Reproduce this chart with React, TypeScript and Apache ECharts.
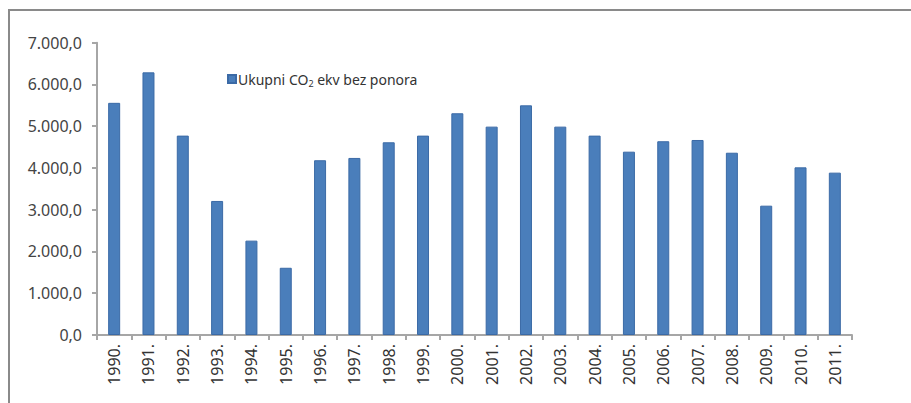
import React, { useEffect, useRef } from "react";
import * as echarts from "echarts";

const years = [
  "1990.", "1991.", "1992.", "1993.", "1994.", "1995.", "1996.", "1997.", "1998.", "1999.", "2000.",
  "2001.", "2002.", "2003.", "2004.", "2005.", "2006.", "2007.", "2008.", "2009.", "2010.", "2011.",
];
const emissions = [
  5560, 6290, 4775, 3210, 2260, 1610, 4185, 4240, 4615, 4775, 5310,
  4990, 5500, 4990, 4775, 4390, 4640, 4670, 4365, 3097, 4015, 3888,
];
const seriesName = "Ukupni CO2 ekv bez ponora";

const fmt = (v: number) => {
  const s = Math.round(v).toString().replace(/\B(?=(\d{3})+(?!\d))/g, ".");
  return s + ",0";
};

export default function App() {
  const ref = useRef<HTMLDivElement>(null);
  useEffect(() => {
    if (!ref.current) return;
    const chart = echarts.init(ref.current, null, { renderer: "svg" });
    const font = "Noto Sans";
    chart.setOption({
      animation: false,
      backgroundColor: "#fff",
      textStyle: { fontFamily: font },
      graphic: [
        {
          type: "rect",
          shape: { x: 9, y: 10, width: 940, height: 440 },
          style: { fill: "none", stroke: "#8a8a8a", lineWidth: 2 },
          z: 100,
        },
      ],
      legend: {
        left: 222,
        top: 67,
        icon: "rect",
        itemWidth: 8,
        itemHeight: 8,
        itemGap: 10,
        textStyle: {
          fontFamily: font,
          fontSize: 14,
          color: "#333",
          padding: [0, 0, 0, -3],
          rich: {
            sub: { fontSize: 9, verticalAlign: "bottom", padding: [8, 0, 0, 0], color: "#333", fontFamily: font },
          },
        },
        formatter: () => "Ukupni CO{sub|2} ekv bez ponora",
        data: [seriesName],
      },
      grid: { left: 97, right: 59, top: 42.7, bottom: 68, containLabel: false },
      xAxis: {
        type: "category",
        data: years,
        boundaryGap: true,
        axisLine: { lineStyle: { color: "#a6a6a6", width: 2 } },
        axisTick: { show: true, alignWithLabel: false, length: 5, lineStyle: { color: "#a6a6a6", width: 2 } },
        axisLabel: { rotate: 90, margin: 9, fontSize: 16, color: "#333", fontFamily: font, interval: 0 },
      },
      yAxis: {
        type: "value",
        min: 0,
        max: 7000,
        interval: 1000,
        axisLine: { show: true, lineStyle: { color: "#a6a6a6", width: 2 } },
        axisTick: { show: true, length: 5, lineStyle: { color: "#a6a6a6", width: 2 } },
        splitLine: { show: false },
        axisLabel: { formatter: fmt, fontSize: 16, color: "#444", margin: 15, fontFamily: font },
      },
      series: [
        {
          name: seriesName,
          type: "bar",
          data: emissions,
          barWidth: 12,
          itemStyle: { color: "#4a7ebb", borderColor: "#3b6aa6", borderWidth: 1 },
        },
      ],
    });
    return () => chart.dispose();
  }, []);
  return <div ref={ref} style={{ width: 911, height: 403, position: "absolute", left: 0, top: 0 }} />;
}
